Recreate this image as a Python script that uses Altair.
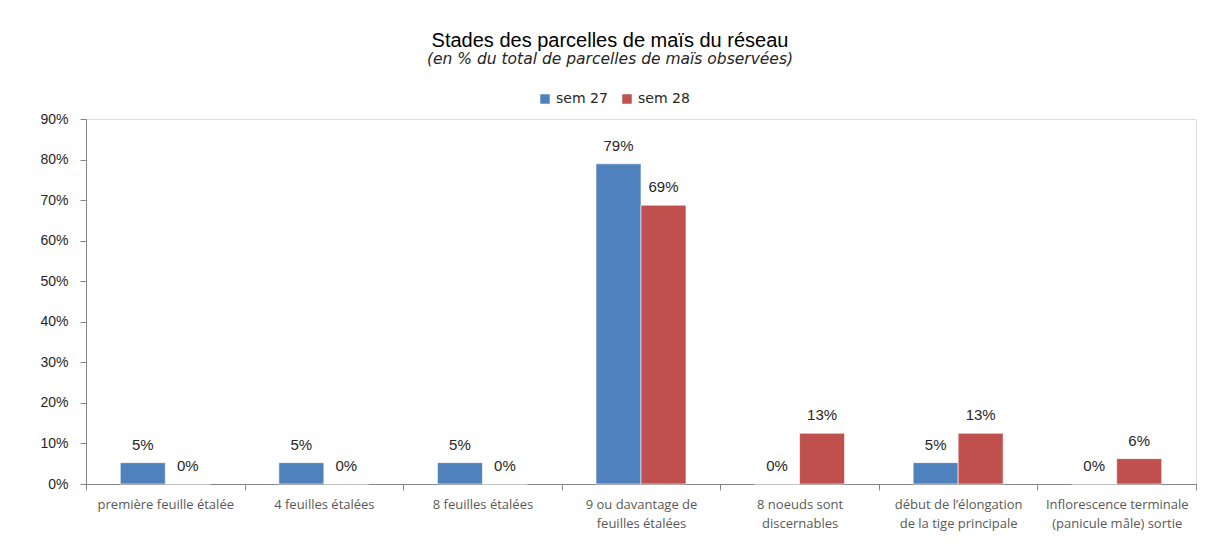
import altair as alt
import pandas as pd

categories = [
    "première feuille étalée",
    "4 feuilles étalées",
    "8 feuilles étalées",
    "9 ou davantage de\nfeuilles étalées",
    "8 noeuds sont\ndiscernables",
    "début de l’élongation\nde la tige principale",
    "Inflorescence terminale\n(panicule mâle) sortie",
]
series = ["sem 27", "sem 28"]
sem27 = [1/19, 1/19, 1/19, 15/19, 0.0, 1/19, 0.0]
sem28 = [0.0, 0.0, 0.0, 11/16, 2/16, 2/16, 1/16]
y_ticks = [0, 0.1, 0.2, 0.3, 0.4, 0.5, 0.6, 0.7, 0.8, 0.9]
colors = ["#4F81BD", "#C0504D"]

rows = []
for c, a, b in zip(categories, sem27, sem28):
    rows.append({"stade": c, "semaine": series[0], "val": a})
    rows.append({"stade": c, "semaine": series[1], "val": b})
df = pd.DataFrame(rows)

x = alt.X("stade:N", sort=categories, title=None,
          scale=alt.Scale(paddingInner=0, paddingOuter=0),
          axis=alt.Axis(labelAngle=0, labelExpr="split(datum.label, '\\n')",
                        tickBand="extent", domainColor="#868686", tickColor="#868686",
                        tickSize=6, labelColor="#595959", labelFont="Open Sans",
                        labelFontSize=13, labelPadding=8, labelLineHeight=19))
xo = alt.XOffset("semaine:N", sort=series,
                 scale=alt.Scale(paddingOuter=0.762, paddingInner=0))

base = alt.Chart(df)
bars = base.mark_bar(stroke="white", strokeWidth=0.6).encode(
    x=x,
    xOffset=xo,
    y=alt.Y("val:Q", title=None,
            scale=alt.Scale(domain=[0, 0.9], nice=False),
            axis=alt.Axis(values=y_ticks, format=".0%", grid=False,
                          domainColor="#868686", tickColor="#868686", tickSize=6,
                          labelColor="#262626", labelFont="Liberation Sans",
                          labelFontSize=14, labelPadding=12)),
    color=alt.Color("semaine:N", sort=series,
                    scale=alt.Scale(domain=series, range=colors),
                    legend=alt.Legend(title=None, orient="none", direction="horizontal",
                                      legendX=452, legendY=-27, symbolType="square",
                                      symbolSize=90, symbolStrokeWidth=0,
                                      labelFontSize=14, labelFont="DejaVu Sans",
                                      labelColor="#262626", columnPadding=12,
                                      labelOffset=4)),
)
labels = base.mark_text(baseline="bottom", dy=-10, fontSize=15,
                        font="Liberation Sans", color="#262626").encode(
    x=x,
    xOffset=xo,
    y=alt.Y("val:Q"),
    text=alt.Text("val:Q", format=".0%"),
)

chart = alt.layer(bars, labels).properties(
    width=1110, height=365,
    title=alt.TitleParams(
        "Stades des parcelles de maïs du réseau",
        subtitle="(en % du total de parcelles de maïs observées)",
        font="Liberation Sans", fontSize=20, fontWeight="normal", color="#000000",
        subtitleFont="DejaVu Sans", subtitleFontSize=15.5, subtitleFontStyle="italic",
        subtitleColor="#262626", anchor="middle", dx=-31, offset=25, subtitlePadding=1,
    ),
    autosize=alt.AutoSizeParams(type="none"),
    padding={"left": 78, "top": 111, "right": 1, "bottom": 50},
).configure_view(stroke=None).configure(background="white")

chart.save("out.html", embed_options={"renderer": "svg", "actions": False})
